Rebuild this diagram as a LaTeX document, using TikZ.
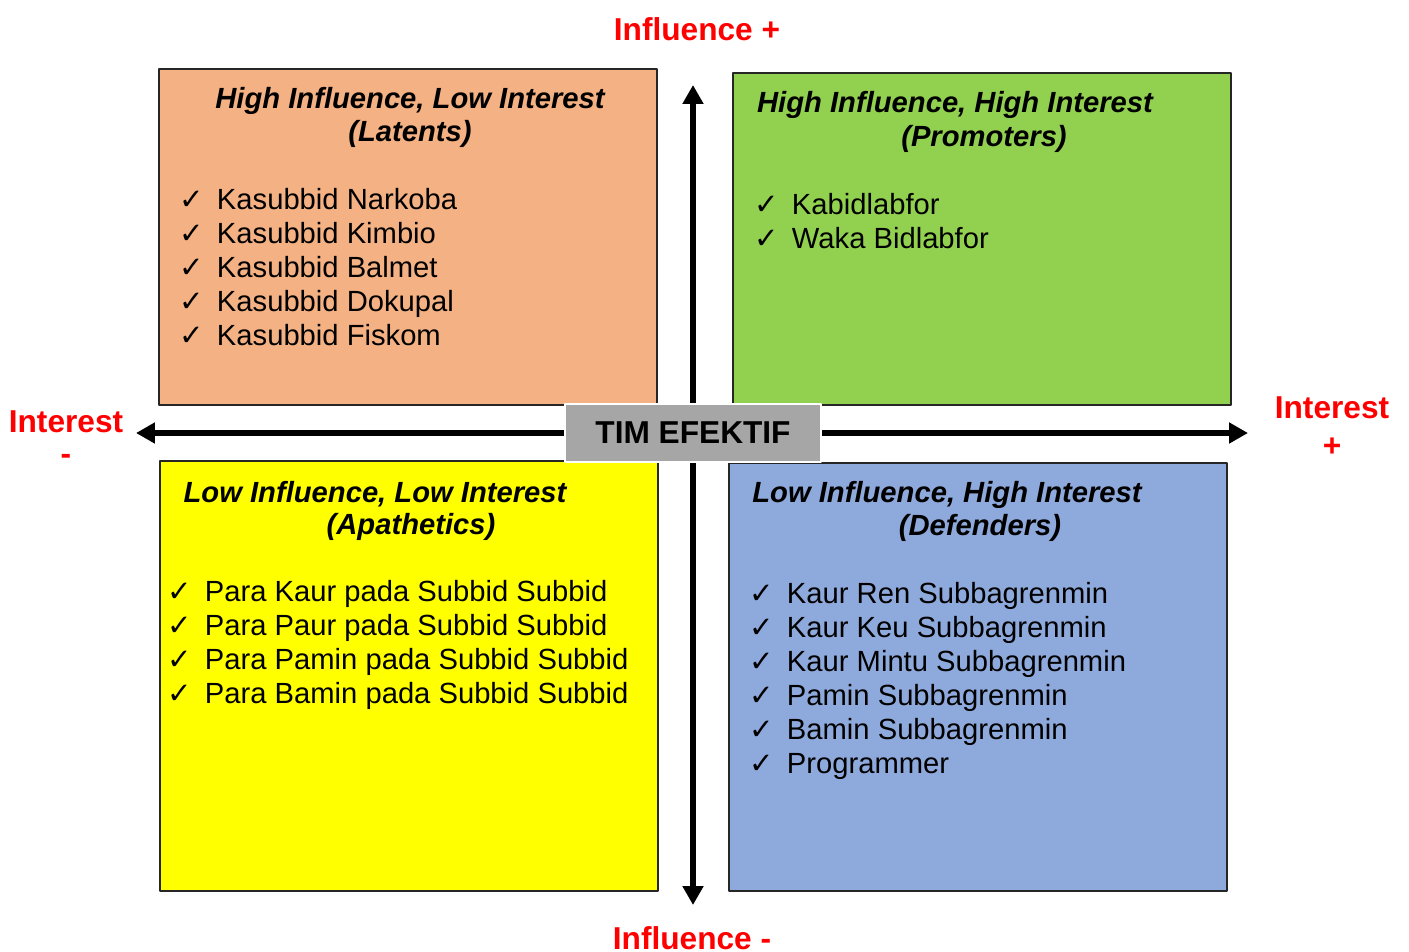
\documentclass[tikz,border=0pt]{standalone}
\usepackage{fontspec}
\setmainfont{Liberation Sans}
\newfontfamily\symfont{DejaVu Sans}
\usetikzlibrary{arrows.meta}
\definecolor{latent}{HTML}{F4B183}
\definecolor{promoter}{HTML}{92D050}
\definecolor{apathetic}{HTML}{FFFF00}
\definecolor{defender}{HTML}{8EA9DB}
\definecolor{timgray}{HTML}{A6A6A6}
\newcommand{\ck}{\makebox[10.6pt][l]{\symfont ✓}}
\tikzset{
  quad/.style={draw=black!85, line width=0.6pt, inner sep=0pt, minimum width=4.98cm},
  head/.style={font=\fontsize{8.3}{9.6}\selectfont\bfseries\itshape, inner sep=0pt},
  item/.style={font=\fontsize{8.3}{9.6}\selectfont, inner sep=0pt, anchor=base west},
  axislabel/.style={text=red, font=\fontsize{9}{10}\selectfont\bfseries, inner sep=0pt},
  bigarrow/.style={line width=1.7pt, -{Triangle[length=5.4pt,width=5.7pt]}}
}
\begin{document}
\begin{tikzpicture}[x=0.01cm, y=-0.01cm, line join=round]
		\useasboundingbox (0,0) rectangle (1409,951);
		\path
		(136,433) coordinate (L)
		(1248,433) coordinate (R)
		(693,85) coordinate (T)
		(693,905) coordinate (B)
		;
		\node[quad, fill=latent, minimum height=3.36cm] (latbox) at (408,237) {};
		\node[quad, fill=promoter, minimum height=3.32cm] (probox) at (982,239) {};
		\node[quad, fill=apathetic, minimum height=4.30cm] (apabox) at (409,676) {};
		\node[quad, fill=defender, minimum height=4.28cm] (defbox) at (978,677) {};
		\node[fill=timgray, draw=white, line width=0.6pt, minimum width=2.56cm, minimum height=0.58cm,
			font=\fontsize{9}{10}\selectfont\bfseries] (tim) at (693,433) {TIM EFEKTIF};
		\draw[bigarrow] (tim) -- (L);
		\draw[bigarrow] (tim) -- (R);
		\draw[bigarrow] (tim) -- (T);
		\draw[bigarrow] (tim) -- (B);
		\node[head] (lath1) at (410,101) {High Influence, Low Interest};
		\node[head] (lath2) at (410,134) {(Latents)};
		\node[head] (proh1) at (955,105) {High Influence, High Interest};
		\node[head] (proh2) at (984,139) {(Promoters)};
		\node[head] (apah1) at (375,494) {Low Influence, Low Interest};
		\node[head] (apah2) at (411,527) {(Apathetics)};
		\node[head] (defh1) at (947,495) {Low Influence, High Interest};
		\node[head] (defh2) at (980,528) {(Defenders)};
		\foreach \t [count=\i] in {Kasubbid Narkoba, Kasubbid Kimbio, Kasubbid Balmet, Kasubbid Dokupal, Kasubbid Fiskom}
		\node[item] (lat\i) at (179,175+34*\i) {\ck\t};
		\foreach \t [count=\i] in {Kabidlabfor, Waka Bidlabfor}
		\node[item] (pro\i) at (754,180+34*\i) {\ck\t};
		\foreach \t [count=\i] in {Para Kaur pada Subbid Subbid, Para Paur pada Subbid Subbid, Para Pamin pada Subbid Subbid, Para Bamin pada Subbid Subbid}
		\node[item] (apa\i) at (167,567+34*\i) {\ck\t};
		\foreach \t [count=\i] in {Kaur Ren Subbagrenmin, Kaur Keu Subbagrenmin, Kaur Mintu Subbagrenmin, Pamin Subbagrenmin, Bamin Subbagrenmin, Programmer}
		\node[item] (def\i) at (749,569+34*\i) {\ck\t};
		\node[axislabel] (inflp) at (697,29) {Influence +};
		\node[axislabel] (inflm) at (692,938) {Influence -};
		\node[axislabel] (intm) at (66,422) {Interest};
		\node[axislabel] (intmsign) at (66,459) {-};
		\node[axislabel] (intp) at (1332,408) {Interest};
		\node[axislabel] (intpsign) at (1332,447) {+};
\end{tikzpicture}
\end{document}
